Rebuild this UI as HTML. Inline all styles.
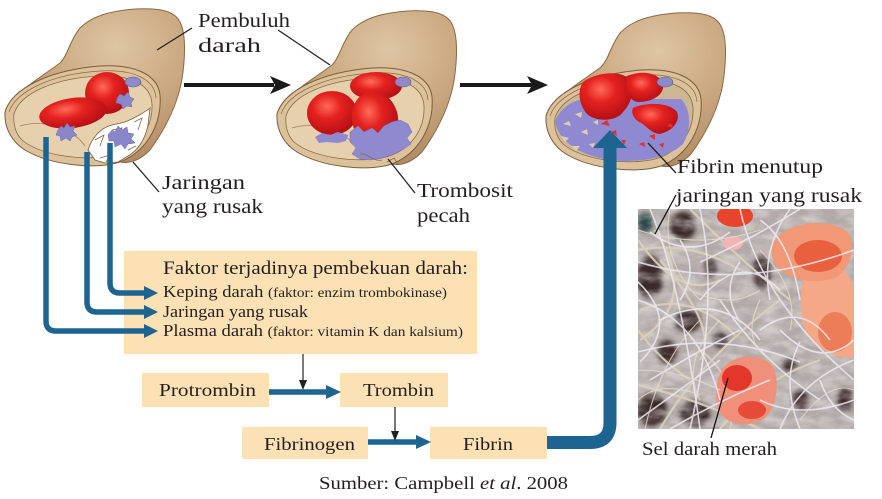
<!DOCTYPE html>
<html><head><meta charset="utf-8"><style>
html,body{margin:0;padding:0;background:#fff;}
body{width:882px;height:499px;overflow:hidden;}
svg{display:block;}
text{font-family:"Liberation Serif",serif;fill:#231f20;}
</style></head><body>
<svg width="882" height="499" viewBox="0 0 882 499" xmlns="http://www.w3.org/2000/svg">
<defs>
<radialGradient id="tan" cx="0.62" cy="0.25" r="0.75">
<stop offset="0" stop-color="#dec6a4"/><stop offset="0.55" stop-color="#c9a67e"/><stop offset="1" stop-color="#b08a62"/>
</radialGradient>
<radialGradient id="rbc" cx="0.4" cy="0.35" r="0.7">
<stop offset="0" stop-color="#ff6b58"/><stop offset="0.4" stop-color="#e4221f"/><stop offset="1" stop-color="#b00d16"/>
</radialGradient>
<clipPath id="pc"><rect x="638" y="209" width="216" height="220"/></clipPath>
<filter id="bl" x="-20%" y="-20%" width="140%" height="140%"><feGaussianBlur stdDeviation="2.5"/></filter>
<filter id="tex"><feTurbulence type="fractalNoise" baseFrequency="0.05 0.11" numOctaves="3" seed="4"/><feColorMatrix type="matrix" values="0 0 0 0 0.95 0 0 0 0 0.92 0 0 0 0 0.9 0 0 0 1.8 -0.6"/></filter>
</defs>

<!-- ===== Vessel 1 ===== -->
<g>
<path d="M5,112 C10,95 40,78 60,63 C68,55 70,40 80,28 C92,16 110,11 135,9 C158,8 174,10 180,22 C186,34 185,55 183,72 C180,98 168,125 150,150 C140,160 130,164 120,162 L25,150 Z" fill="url(#tan)" stroke="#8a6a46" stroke-width="1"/>
<path d="M5,112 C12,88 50,70 100,66 C135,64 158,75 160,95 C162,120 150,150 120,162 C95,170 50,165 25,150 C12,142 4,128 5,112 Z" fill="#dcc29b" stroke="#7d5c3a" stroke-width="1"/>
<path d="M9,112 C16,91 52,74 100,71 C133,69 155,79 156,98" fill="none" stroke="#8a6a46" stroke-width="0.7"/>
<path d="M14,114 C20,93 55,78 100,76 C132,75 151,85 152,104 C153,128 138,150 110,156 C80,161 40,155 22,140 C15,133 13,123 14,114 Z" fill="#e6d0ad" stroke="#8a6a46" stroke-width="0.8"/>
<path d="M20,126 C40,120 70,125 85,146" fill="none" stroke="#a08060" stroke-width="0.8"/>
<ellipse cx="107" cy="93" rx="22" ry="21" fill="url(#rbc)"/>
<ellipse cx="73" cy="113" rx="34" ry="15" transform="rotate(-8 73 113)" fill="url(#rbc)"/>
<ellipse cx="133" cy="82" rx="8" ry="5" fill="#8f8ac8" stroke="#5f5a95" stroke-width="0.6"/>
<path d="M88,150 C92,138 100,128 112,125 L125,122 C135,118 145,112 150,108 L148,125 C145,140 138,150 128,156 L118,162 L105,163 L95,160 Z" fill="#fff" stroke="#7d5c3a" stroke-width="0.8"/>
<path d="M95,140 L104,135 L100,146 M112,130 L122,128 L116,138 M134,122 L142,118 L138,130 M128,150 L136,146 M100,158 L110,155 L106,162" fill="none" stroke="#8a6a46" stroke-width="0.8"/>
<polygon points="58,130 61,126 64,128 67,123 70,127 75,126 73,131 77,135 72,137 70,141 66,138 61,141 60,136 56,135" fill="#8a86cc" stroke="#6c67aa" stroke-width="0.5"/>
<polygon points="117,98 120,94 124,96 128,92 130,97 134,99 131,103 132,107 127,106 123,109 121,104 116,103" fill="#8a86cc" stroke="#6c67aa" stroke-width="0.5"/>
<polygon points="108,135 112,130 115,132 118,126 122,130 127,127 128,133 134,134 131,139 135,143 128,144 125,149 121,144 115,147 114,141 109,141" fill="#8a86cc" stroke="#6c67aa" stroke-width="0.5"/>
</g>

<!-- ===== Vessel 2 ===== -->
<g transform="translate(272,2)">
<path d="M5,112 C10,95 40,78 60,63 C68,55 70,40 80,28 C92,16 110,11 135,9 C158,8 174,10 180,22 C186,34 185,55 183,72 C180,98 168,125 150,150 C140,160 130,164 120,162 L25,150 Z" fill="url(#tan)" stroke="#8a6a46" stroke-width="1"/>
<path d="M5,112 C12,88 50,70 100,66 C135,64 158,75 160,95 C162,120 150,150 120,162 C95,170 50,165 25,150 C12,142 4,128 5,112 Z" fill="#dcc29b" stroke="#7d5c3a" stroke-width="1"/>
<path d="M9,112 C16,91 52,74 100,71 C133,69 155,79 156,98" fill="none" stroke="#8a6a46" stroke-width="0.7"/>
<path d="M14,114 C20,93 55,78 100,76 C132,75 151,85 152,104 C153,128 138,150 110,156 C80,161 40,155 22,140 C15,133 13,123 14,114 Z" fill="#e6d0ad" stroke="#8a6a46" stroke-width="0.8"/>
<path d="M20,126 C40,120 70,125 85,146" fill="none" stroke="#a08060" stroke-width="0.8"/>
<ellipse cx="104" cy="84" rx="26" ry="14" fill="url(#rbc)"/>
<ellipse cx="60" cy="111" rx="25" ry="22" fill="url(#rbc)"/>
<ellipse cx="103" cy="117" rx="23" ry="28" transform="rotate(-12 103 117)" fill="url(#rbc)"/>
<ellipse cx="131" cy="80" rx="8" ry="5" fill="#8f8ac8" stroke="#5f5a95" stroke-width="0.6"/>
<path d="M43,135 L50,131 L58,133 L66,130 L76,133 L74,139 L66,141 L55,140 L47,141 Z" fill="#8f89cf"/>
<path d="M78,130 L86,124 L92,130 L100,126 L106,131 L112,124 L120,120 L128,118 L136,122 L140,130 L135,136 L139,142 L130,148 L122,152 L110,156 L98,158 L88,157 L80,152 L84,146 L78,140 Z" fill="#8f89cf" stroke="#7873b8" stroke-width="0.5"/>
<path d="M88,152 C95,150 100,160 110,158 M115,160 L122,156 L126,162" fill="none" stroke="#8a6a46" stroke-width="0.8"/>
</g>

<!-- ===== Vessel 3 ===== -->
<g transform="translate(541,4)">
<path d="M5,112 C10,95 40,78 60,63 C68,55 70,40 80,28 C92,16 110,11 135,9 C158,8 174,10 180,22 C186,34 185,55 183,72 C180,98 168,125 150,150 C140,160 130,164 120,162 L25,150 Z" fill="url(#tan)" stroke="#8a6a46" stroke-width="1"/>
<path d="M5,112 C12,88 50,70 100,66 C135,64 158,75 160,95 C162,120 150,150 120,162 C95,170 50,165 25,150 C12,142 4,128 5,112 Z" fill="#dcc29b" stroke="#7d5c3a" stroke-width="1"/>
<path d="M9,112 C16,91 52,74 100,71 C133,69 155,79 156,98" fill="none" stroke="#8a6a46" stroke-width="0.7"/>
<path d="M14,114 C20,93 55,78 100,76 C132,75 151,85 152,104 C153,128 138,150 110,156 C80,161 40,155 22,140 C15,133 13,123 14,114 Z" fill="#cdb693" stroke="#8a6a46" stroke-width="0.8"/>
<path d="M14,118 C20,100 40,92 55,95 L140,95 C150,105 151,125 142,140 C128,153 105,157 85,157 C55,157 20,145 14,118 Z" fill="#8f89d2"/>
<path d="M22,120 l6,-3 l2,5 z M34,110 l7,-2 l-1,6 z M20,132 l8,2 l-4,4 z M40,128 l6,-3 l1,6 z M30,142 l9,0 l-4,5 z M52,118 l5,-2 l0,5 z M48,140 l6,-1 l-2,5 z M120,125 l5,-2 l0,5 z M130,110 l5,-1 l-1,5 z" fill="#e0cdb0"/>
<path d="M42,78 C55,68 80,66 88,75 C95,85 90,100 82,108 C75,118 55,118 46,110 C38,100 36,88 42,78 Z" fill="url(#rbc)"/>
<path d="M86,72 C100,66 118,68 122,80 C124,90 112,98 98,98 C88,98 84,86 86,72 Z" fill="url(#rbc)"/>
<path d="M92,104 C105,98 128,98 136,108 C140,118 130,128 118,130 C108,128 104,120 98,118 C92,114 90,108 92,104 Z" fill="url(#rbc)"/>
<path d="M60,120 l6,-4 l3,6 z M70,128 l5,-2 l1,6 z M108,132 l6,-2 l0,6 z M118,140 l5,-1 l-1,5 z M80,136 l5,0 l-2,5 z M126,122 l4,-3 l2,5 z M98,140 l5,-2 l1,5 z" fill="#e0312a"/>
<ellipse cx="124" cy="78" rx="8" ry="5" fill="#8f8ac8" stroke="#5f5a95" stroke-width="0.6"/>
</g>

<!-- black arrows between vessels -->
<g fill="#1a1a1a">
<rect x="184" y="83" width="90" height="4"/>
<polygon points="270,76 291,85 270,94 275,85"/>
<rect x="460" y="83" width="73" height="4"/>
<polygon points="527,76 548,85 527,94 532,85"/>
</g>

<!-- leader lines -->
<g stroke="#222" stroke-width="1.3" fill="none">
<line x1="192" y1="28" x2="157" y2="50"/>
<line x1="278" y1="30" x2="330" y2="65"/>
<line x1="133" y1="162" x2="159" y2="192"/>
<line x1="388" y1="159" x2="415" y2="193"/>
<line x1="648" y1="143" x2="676" y2="173"/>
</g>

<!-- photo -->
<g clip-path="url(#pc)">
<rect x="638" y="209" width="216" height="220" fill="#b2aaa8"/>
<g fill="#3a2c2a" filter="url(#bl)">
<ellipse cx="650" cy="278" rx="13" ry="22"/>
<ellipse cx="688" cy="322" rx="13" ry="11"/>
<ellipse cx="652" cy="410" rx="15" ry="16"/>
<ellipse cx="695" cy="414" rx="15" ry="13"/>
<ellipse cx="683" cy="226" rx="13" ry="14"/>
<ellipse cx="762" cy="272" rx="9" ry="17"/>
<ellipse cx="667" cy="352" rx="10" ry="12"/>
<ellipse cx="800" cy="400" rx="8" ry="10"/>
<ellipse cx="645" cy="222" rx="8" ry="10" fill="#2d4a4a"/>
<ellipse cx="720" cy="340" rx="7" ry="8"/>
<ellipse cx="790" cy="365" rx="7" ry="7"/>
<ellipse cx="845" cy="400" rx="8" ry="12"/>
<ellipse cx="710" cy="268" rx="7" ry="9"/>
</g>
<rect x="638" y="209" width="216" height="220" filter="url(#tex)" opacity="0.5"/>
<g fill="none" stroke="#dcd0bd" stroke-width="2.2" opacity="0.9">
<path d="M638,250 Q690,240 740,270"/>
<path d="M640,310 Q690,290 735,335"/>
<path d="M660,429 Q700,360 780,300"/>
<path d="M638,385 Q700,400 760,429"/>
<path d="M700,350 Q740,380 730,429"/>
<path d="M638,330 Q660,360 690,380"/>
<path d="M655,230 Q700,300 640,340"/>
<path d="M638,240 Q680,300 720,280"/>
<path d="M660,260 Q720,330 700,360"/>
<path d="M690,209 Q740,260 790,300"/>
<path d="M720,429 Q760,380 820,360"/>
</g>
<path d="M809,263 C830,258 852,270 854,290 L854,357 C840,360 815,350 805,330 C798,310 800,280 809,263 Z" fill="#f4a888"/>
<ellipse cx="835" cy="332" rx="17" ry="20" fill="#ec7d58"/>
<path d="M775,240 C790,220 830,218 848,232 C856,245 852,268 835,278 C815,285 790,280 778,268 C770,258 770,248 775,240 Z" fill="#f19876"/>
<ellipse cx="818" cy="256" rx="24" ry="16" fill="#e8603e"/>
<ellipse cx="735" cy="216" rx="18" ry="11" fill="#e8442c"/>
<ellipse cx="733" cy="243" rx="10" ry="7" fill="#f0b4b2"/>
<path d="M722,370 C730,355 760,352 772,365 C780,378 778,405 765,418 C750,428 728,426 720,412 C714,400 715,382 722,370 Z" fill="#f0907a"/>
<ellipse cx="737" cy="378" rx="15" ry="13" fill="#e2372a"/>
<ellipse cx="752" cy="410" rx="14" ry="9" fill="#e84a3a"/>
<g fill="none" stroke="#eeeaf4" stroke-width="1.6" opacity="0.85">
<path d="M650,209 Q680,280 700,429"/>
<path d="M700,209 Q720,300 690,429"/>
<path d="M638,352 Q720,330 800,362"/>
<path d="M740,209 Q760,300 854,380"/>
<path d="M780,429 Q800,380 854,360"/>
<path d="M638,262 Q740,292 854,250"/>
<path d="M700,262 Q750,240 800,209"/>
<path d="M660,320 Q720,290 760,340"/>
<path d="M720,300 Q760,360 820,400"/>
<path d="M760,330 Q800,300 830,340"/>
<path d="M638,420 Q680,390 720,360"/>
<path d="M790,209 Q760,250 770,300"/>
<path d="M820,380 Q830,410 854,420"/>
<path d="M650,232 Q690,262 730,232"/>
<path d="M760,400 Q800,420 854,400"/>
<path d="M680,240 Q700,270 680,300"/>
<path d="M740,262 Q720,290 740,322"/>
<path d="M800,342 Q780,380 800,429"/>
<path d="M638,282 Q680,322 640,362"/>
<path d="M670,429 Q720,400 770,380"/>
<path d="M700,300 Q740,250 780,290"/>
<path d="M638,300 Q700,320 720,400"/>
<path d="M760,220 Q790,240 800,300"/>
<path d="M780,330 Q820,370 854,340"/>
<path d="M650,380 Q700,350 740,330"/>
</g>
<g fill="none" stroke="#e6dccb" stroke-width="1.1" opacity="0.8">
<path d="M638,230 Q700,250 760,230"/>
<path d="M645,429 Q660,360 700,320"/>
<path d="M670,209 Q660,260 700,300"/>
<path d="M720,320 Q680,360 700,400"/>
<path d="M760,300 Q740,340 770,360"/>
<path d="M638,370 Q680,370 720,390"/>
<path d="M800,420 Q830,380 854,390"/>
<path d="M760,250 Q800,290 790,330"/>
<path d="M690,290 Q730,310 760,290"/>
<path d="M638,400 Q660,380 700,395"/>
</g>
</g>
<g stroke="#111" stroke-width="1.3">
<line x1="676" y1="195" x2="655" y2="234"/>
<line x1="728" y1="378" x2="711" y2="438"/>
</g>

<!-- boxes -->
<g fill="#fce1b4">
<rect x="124" y="251" width="353" height="103"/>
<rect x="142" y="373" width="127" height="34"/>
<rect x="340" y="373" width="108" height="34"/>
<rect x="242" y="427" width="126" height="32"/>
<rect x="430" y="427" width="117" height="32"/>
</g>

<!-- blue connectors -->
<g fill="none" stroke="#1e6491" stroke-width="5.5">
<path d="M110,143 V283 Q110,293 120,293 H147"/>
<path d="M87,152 V302 Q87,312 97,312 H147"/>
<path d="M46,137 V321 Q46,331 56,331 H147"/>
<line x1="269" y1="392" x2="328" y2="392"/>
<line x1="368" y1="442" x2="418" y2="442"/>
</g>
<path d="M547,442.5 H590 Q610,442.5 610,422.5 V145" fill="none" stroke="#1e6491" stroke-width="13"/>
<g fill="#1e6491">
<polygon points="144,286 158,293 144,300"/>
<polygon points="144,305 158,312 144,319"/>
<polygon points="144,324 158,331 144,338"/>
<polygon points="326,385 341,392 326,399"/>
<polygon points="416,435 431,442 416,449"/>
<polygon points="593,148 627,148 610,130"/>
</g>

<!-- thin black arrows -->
<g stroke="#222" stroke-width="1.2">
<line x1="303" y1="354" x2="303" y2="382"/>
<line x1="395" y1="407" x2="395" y2="433"/>
</g>
<g fill="#222">
<polygon points="299,380 307,380 303,390"/>
<polygon points="391,431 399,431 395,441"/>
</g>

<!-- labels -->
<g font-size="20">
<text x="198" y="27" textLength="92" lengthAdjust="spacingAndGlyphs">Pembuluh</text>
<text x="198" y="52" textLength="63" lengthAdjust="spacingAndGlyphs">darah</text>
<text x="162" y="189" textLength="83" lengthAdjust="spacingAndGlyphs">Jaringan</text>
<text x="162" y="213" textLength="101" lengthAdjust="spacingAndGlyphs">yang rusak</text>
<text x="417" y="197" textLength="96" lengthAdjust="spacingAndGlyphs">Trombosit</text>
<text x="417" y="222" textLength="53" lengthAdjust="spacingAndGlyphs">pecah</text>
<text x="677" y="173" textLength="146" lengthAdjust="spacingAndGlyphs">Fibrin menutup</text>
<text x="676" y="202" textLength="186" lengthAdjust="spacingAndGlyphs">jaringan yang rusak</text>
</g>
<text x="642" y="455" font-size="19" textLength="135" lengthAdjust="spacingAndGlyphs">Sel darah merah</text>

<text x="163" y="274" font-size="19" textLength="305" lengthAdjust="spacingAndGlyphs">Faktor terjadinya pembekuan darah:</text>
<text x="163" y="297" font-size="17" textLength="284" lengthAdjust="spacingAndGlyphs">Keping darah <tspan font-size="14">(faktor: enzim trombokinase)</tspan></text>
<text x="163" y="317" font-size="17" textLength="145" lengthAdjust="spacingAndGlyphs">Jaringan yang rusak</text>
<text x="163" y="336" font-size="17" textLength="300" lengthAdjust="spacingAndGlyphs">Plasma darah <tspan font-size="14">(faktor: vitamin K dan kalsium)</tspan></text>

<g font-size="18">
<text x="159" y="396" textLength="97" lengthAdjust="spacingAndGlyphs">Protrombin</text>
<text x="363" y="396" textLength="71" lengthAdjust="spacingAndGlyphs">Trombin</text>
<text x="264" y="450" textLength="91" lengthAdjust="spacingAndGlyphs">Fibrinogen</text>
<text x="463" y="450" textLength="50" lengthAdjust="spacingAndGlyphs">Fibrin</text>
<text x="319" y="489" textLength="249" lengthAdjust="spacingAndGlyphs">Sumber: Campbell <tspan font-style="italic">et al</tspan>. 2008</text>
</g>
</svg>
</body></html>
